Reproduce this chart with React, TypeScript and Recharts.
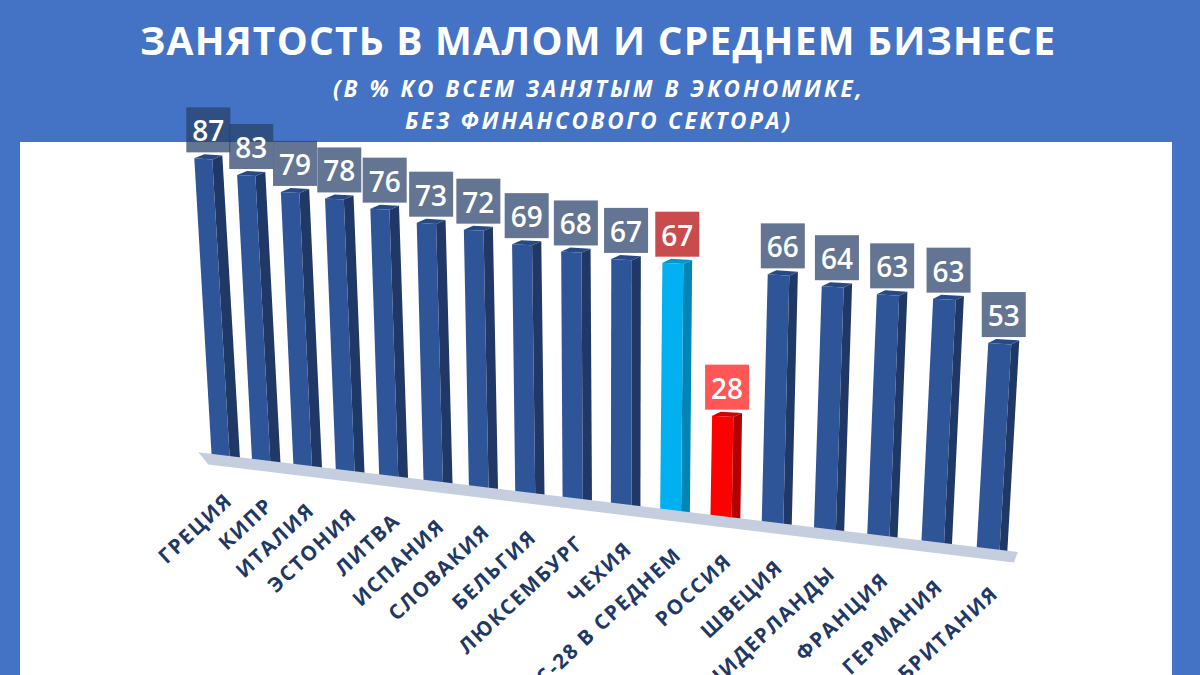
import React from "react";
import { BarChart, Bar, XAxis, YAxis, LabelList, ReferenceLine } from "recharts";

const categories = [
  "ГРЕЦИЯ", "КИПР", "ИТАЛИЯ", "ЭСТОНИЯ", "ЛИТВА", "ИСПАНИЯ", "СЛОВАКИЯ", "БЕЛЬГИЯ",
  "ЛЮКСЕМБУРГ", "ЧЕХИЯ", "ЕС-28 В СРЕДНЕМ", "РОССИЯ", "ШВЕЦИЯ", "НИДЕРЛАНДЫ",
  "ФРАНЦИЯ", "ГЕРМАНИЯ", "ВЕЛИКОБРИТАНИЯ",
];
const shares = [87, 83, 79, 78, 76, 73, 72, 69, 68, 67, 67, 28, 66, 64, 63, 63, 53];

const data = categories.map((name, i) => ({ name, value: shares[i] }));

const FONT = "'Open Sans', 'DejaVu Sans', sans-serif";

// colours of the two highlighted columns
const palette: Record<string, { front: string; side: string; top: string; box: string; boxOpacity: number }> = {
  default: { front: "#2E5597", side: "#1F3865", top: "#274A87", box: "#274068", boxOpacity: 0.72 },
  "ЕС-28 В СРЕДНЕМ": { front: "#00B0F0", side: "#0085B5", top: "#0097CF", box: "#C94B4B", boxOpacity: 1 },
  "РОССИЯ": { front: "#FF0000", side: "#B30000", top: "#D40000", box: "#FF5656", boxOpacity: 1 },
};
const colorsOf = (name: string) => palette[name] || palette.default;

// 3d-ish perspective: flat recharts coords -> picture coords
const X0 = 212;
const SPAN = 764;
const FLOOR_SLOPE = 93 / SPAN;
const warp = (x: number) => X0 + (x - X0) * (0.835 + (0.165 * (x - X0)) / SPAN);
const baseY = (X: number) => 462 + (X - X0) * FLOOR_SLOPE;

function geom(x: number, height: number) {
  const xb = warp(x);
  const f = (xb - X0) / SPAN;
  const yb = baseY(xb);
  const h = height * (1 + 0.146 * f);
  const w = 18 + 5 * f;
  const side = 10 - 2 * f;
  const lean = ((xb - 600) * h) / 6660;
  return { xb, yb, w, side, h, lean };
}

const pts = (p: number[][]) => p.map((q) => q.join(",")).join(" ");

const Bar3D = (props: any) => {
  const { x, height, payload } = props;
  const c = colorsOf(payload.name);
  const { xb, yb, w, side, h, lean } = geom(x, height);
  const dy = w * FLOOR_SLOPE * 0.5;
  const BL = [xb, yb];
  const BR = [xb + w, yb + dy];
  const TL = [xb + lean, yb - h];
  const TR = [xb + w + lean, yb - h + dy];
  const d = [side, -4];
  const add = (p: number[]) => [p[0] + d[0], p[1] + d[1]];
  return (
    <g>
      <polygon points={pts([BR, add(BR), add(TR), TR])} fill={c.side} />
      <polygon points={pts([TL, TR, add(TR), add(TL)])} fill={c.top} />
      <polygon points={pts([BL, BR, TR, TL])} fill={c.front} />
    </g>
  );
};

const ValueBox = (props: any) => {
  const vb = props.viewBox || props;
  const { x, height } = vb;
  const idx = props.index;
  const name = categories[idx] ?? "";
  const c = colorsOf(name);
  const { xb, yb, w, side, h, lean } = geom(x, height);
  const cx = xb + lean + (w + side) / 2;
  const bottom = yb - h - 6;
  return (
    <g>
      <rect x={cx - 22} y={bottom - 45} width={44} height={45} fill={c.box} fillOpacity={c.boxOpacity} />
      <text x={cx} y={bottom - 11} textAnchor="middle" fill="#FFFFFF" fontFamily={FONT} fontSize={28} fontWeight={600}>
        {props.value}
      </text>
    </g>
  );
};

const CategoryTick = (props: any) => {
  const { x, payload } = props;
  const { xb, yb, w, side } = geom(x - 10, 0);
  const ax = xb + (w + side) / 2 + 8;
  const ay = yb + 40;
  return (
    <text
      x={ax}
      y={ay}
      transform={`rotate(-43 ${ax} ${ay})`}
      textAnchor="end"
      fill="#1F3864"
      fontFamily={FONT}
      fontSize={20.5}
      fontWeight={700}
      letterSpacing={1.6}
    >
      {payload.value}
    </text>
  );
};

const Floor = (props: any) => {
  const { x1, x2 } = props;
  const A = warp(x1);
  const B = warp(x2);
  return (
    <polygon
      points={pts([
        [A - 2, baseY(A - 2) - 8],
        [B + 2, baseY(B + 2) - 8],
        [B - 2, baseY(B - 2) + 3],
        [A + 8, baseY(A + 8) + 3],
      ])}
      fill="#C4CEDF"
    />
  );
};

export default function App() {
  return (
    <div style={{ position: "relative", width: 1200, height: 675, background: "#4472C4", overflow: "hidden" }}>
      <style>{`body{margin:0}`}</style>
      <div style={{ position: "absolute", left: 20, top: 142, width: 1152, height: 560, background: "#FFFFFF" }} />
      <svg width={1200} height={140} style={{ position: "absolute", left: 0, top: 0 }}>
        <text x={597.5} y={55} textAnchor="middle" fill="#FFFFFF" fontFamily={FONT} fontSize={39} fontWeight={700}
          textLength={915} lengthAdjust="spacing">
          ЗАНЯТОСТЬ В МАЛОМ И СРЕДНЕМ БИЗНЕСЕ
        </text>
        <text x={597.5} y={97} textAnchor="middle" fill="#FFFFFF" fontFamily={FONT} fontSize={22.5} fontWeight={700}
          fontStyle="italic" textLength={529} lengthAdjust="spacing">
          (В % КО ВСЕМ ЗАНЯТЫМ  В ЭКОНОМИКЕ,
        </text>
        <text x={597.5} y={129} textAnchor="middle" fill="#FFFFFF" fontFamily={FONT} fontSize={22.5} fontWeight={700}
          fontStyle="italic" textLength={385} lengthAdjust="spacing">
          БЕЗ ФИНАНСОВОГО  СЕКТОРА)
        </text>
      </svg>
      <div style={{ position: "absolute", left: 0, top: 0 }}>
        <BarChart width={1200} height={675} data={data} margin={{ top: 113, right: 190, left: 198, bottom: 183 }}>
          <YAxis hide domain={[0, 100]} />
          <XAxis dataKey="name" height={30} interval={0} axisLine={false} tickLine={false} tick={<CategoryTick />} />
          <ReferenceLine y={0} shape={<Floor />} />
          <Bar dataKey="value" barSize={20} shape={<Bar3D />} isAnimationActive={false}>
            <LabelList dataKey="value" content={<ValueBox />} />
          </Bar>
        </BarChart>
      </div>
    </div>
  );
}
